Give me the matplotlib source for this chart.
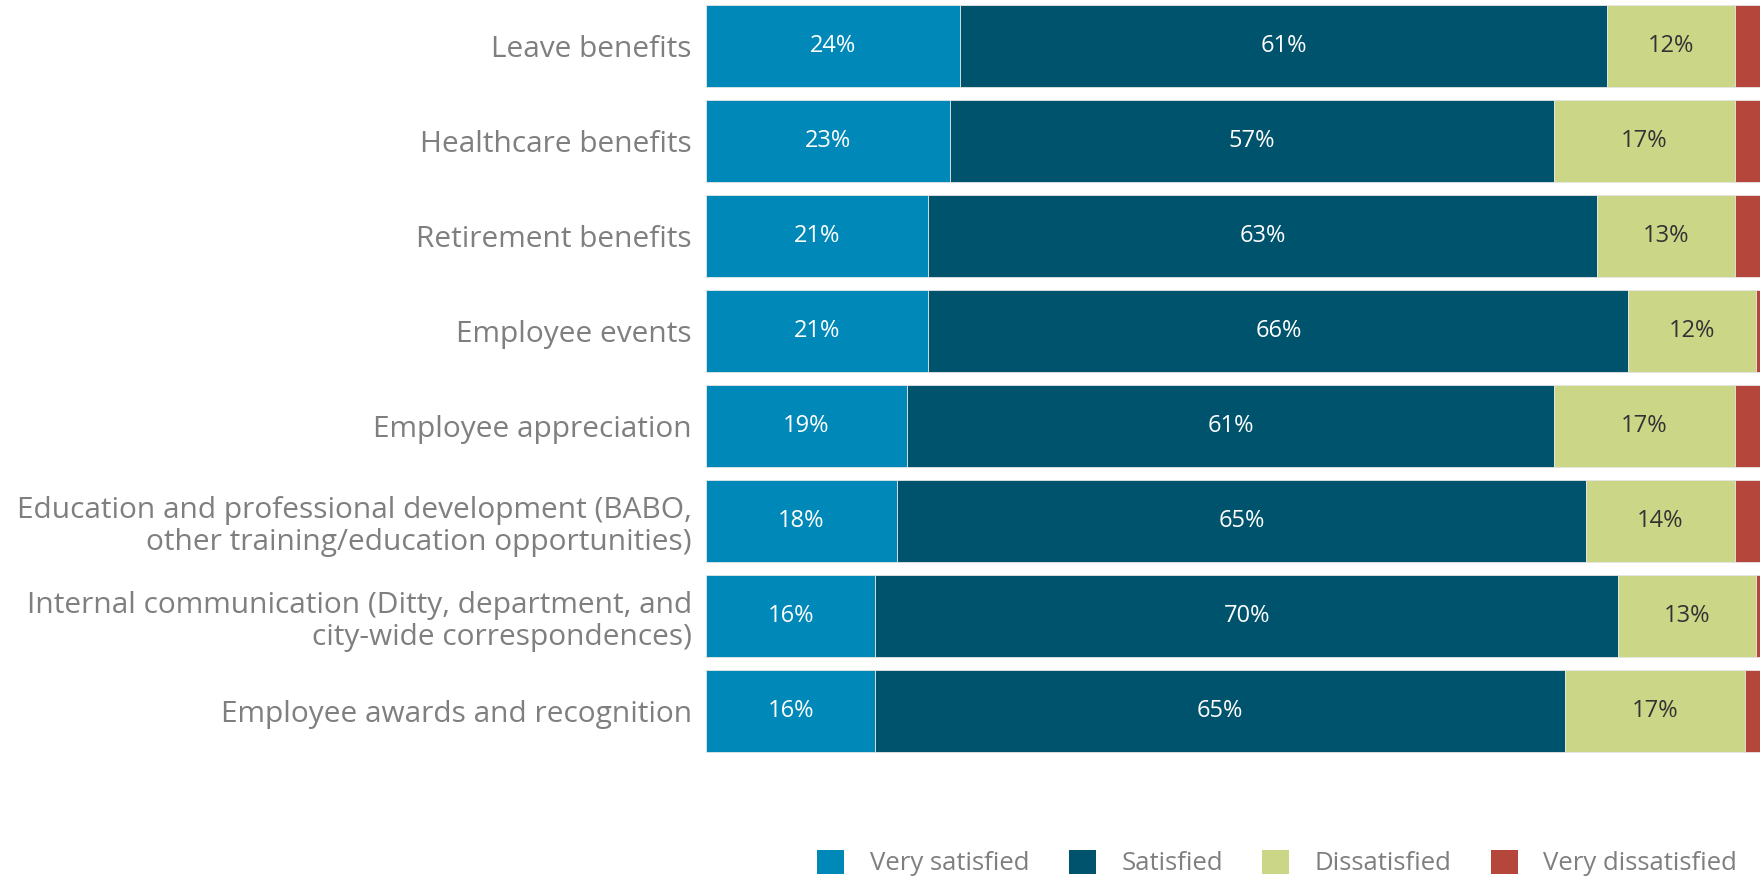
import matplotlib
matplotlib.use("Agg")
import matplotlib.pyplot as plt
from matplotlib.patches import Patch
import numpy as np

plt.rcParams['font.family'] = ['Open Sans', 'DejaVu Sans']

categories = [
    "Leave benefits",
    "Healthcare benefits",
    "Retirement benefits",
    "Employee events",
    "Employee appreciation",
    "Education and professional development (BABO,\nother training/education opportunities)",
    "Internal communication (Ditty, department, and\ncity-wide correspondences)",
    "Employee awards and recognition",
]
very_satisfied = [24, 23, 21, 21, 19, 18, 16, 16]
satisfied = [61, 57, 63, 66, 61, 65, 70, 65]
dissatisfied = [12, 17, 13, 12, 17, 14, 13, 17]
very_dissatisfied = [3, 3, 3, 1, 3, 3, 1, 2]

series = ["Very satisfied", "Satisfied", "Dissatisfied", "Very dissatisfied"]
colors = ["#0089b8", "#00536c", "#ccd687", "#b5463b"]
label_colors = ["white", "white", "#333333", None]

fig = plt.figure(figsize=(17.6, 8.8), dpi=100)
ax = fig.add_axes([0.401, 0.138, 0.599, 0.862])

y = np.arange(len(categories))
left = np.zeros(len(categories))
for vals, name, col, lc in zip([very_satisfied, satisfied, dissatisfied, very_dissatisfied],
                               series, colors, label_colors):
    vals = np.array(vals, dtype=float)
    ax.barh(y, vals, left=left, height=0.86, color=col, edgecolor="#e6e6e6",
            linewidth=0.6, label=name)
    if lc is not None:
        for yi, l, v in zip(y, left, vals):
            ax.text(l + v / 2, yi, f"{int(v)}%", ha="center", va="center",
                    color=lc, fontsize=17)
    left += vals

ax.set_xlim(0, 99.4)
ax.set_ylim(7.5, -0.484)
ax.set_yticks(y)
ax.set_yticklabels(categories, fontsize=21.5, color="#7f7f7f", linespacing=1.15)
ax.tick_params(axis="y", length=0, pad=10)
ax.set_xticks([])
for s in ax.spines.values():
    s.set_visible(False)

handles = [Patch(facecolor=c, edgecolor="none") for c in colors]
fig.legend(handles, series, loc="lower right", bbox_to_anchor=(0.987, 0.004), ncol=4,
           frameon=False, fontsize=18.5, handlelength=1.05, handleheight=1.05,
           handletextpad=1.0, columnspacing=1.52, labelcolor="#7f7f7f",
           borderpad=0, borderaxespad=0)

fig.savefig("out.png", dpi=100)
